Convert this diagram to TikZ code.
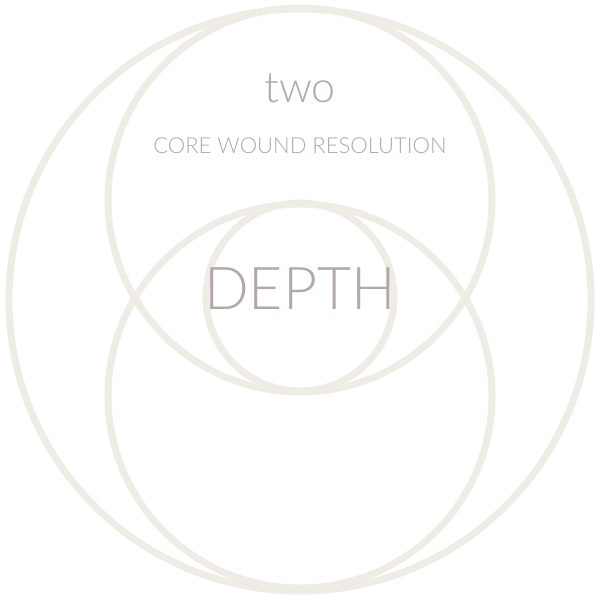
\documentclass[tikz,border=0pt]{standalone}
\usepackage{fontspec}
\newfontfamily\lato{Lato Light}
\definecolor{ring}{HTML}{EFECE6}
\definecolor{txt}{HTML}{B2A8A8}
\begin{document}
\begin{tikzpicture}[x=1pt,y=-1pt,
  ringstyle/.style={draw=ring,line width=7pt},
  label/.style={text=txt,inner sep=0pt,font=\lato}]
\useasboundingbox (0,0) rectangle (600,600);
\draw[ringstyle] (300,300) circle (291);
\draw[ringstyle] (300,200) circle (192);
\draw[ringstyle] (300,396) circle (192);
\draw[ringstyle] (300,297) circle (94);
\node[label,font=\lato\fontsize{43}{43}\selectfont,anchor=base] (two) at (300,102) {two};
\node[label,font=\lato\fontsize{22}{22}\selectfont,anchor=base] (core) at (300,153) {CORE WOUND RESOLUTION};
\node[label,font=\lato\fontsize{59}{59}\selectfont,anchor=base] (depth) at (300,309) {DEPTH};
\end{tikzpicture}
\end{document}
